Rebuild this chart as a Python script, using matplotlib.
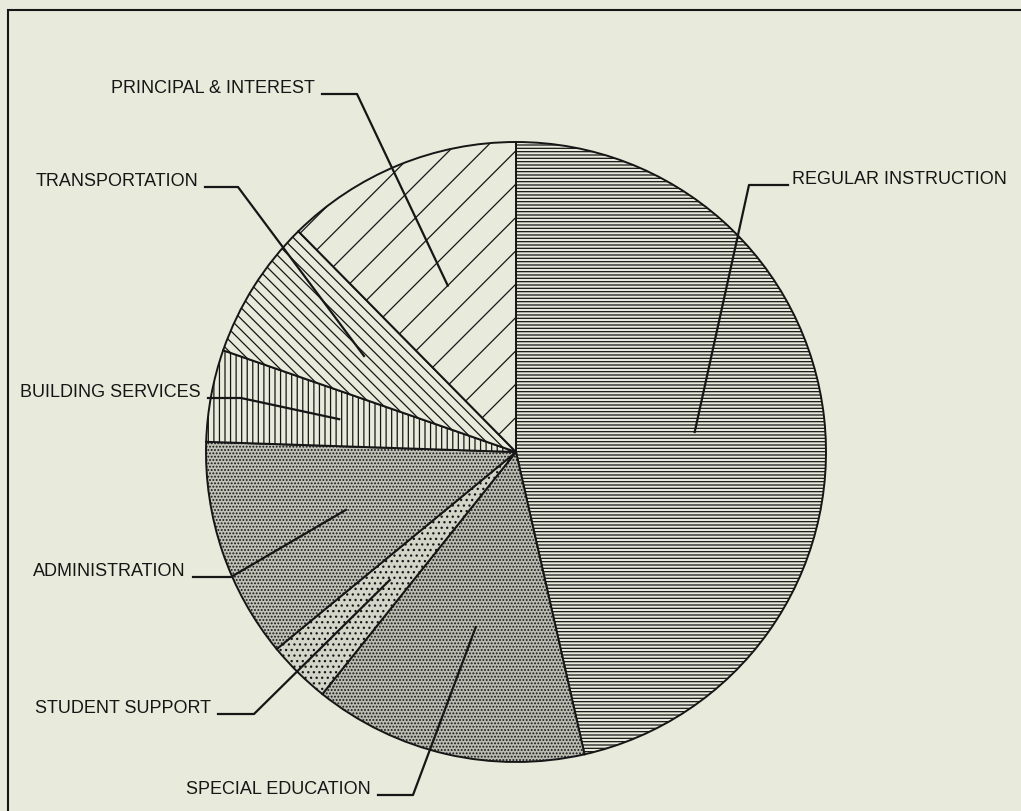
"""Pie chart of district expenditures by program, drawn in the old hatched style."""

import matplotlib

matplotlib.use("Agg")
import matplotlib.pyplot as plt
import numpy as np

FIG_W = 1021
FIG_H = 811
DPI = 100

BG_COLOR = "#e8eadb"
INK = "#161616"

PIE_CENTER = (516, 359)
PIE_RADIUS = 310
LEADER_RADIUS = 0.58

# Slices in clockwise order, starting at 12 o'clock
categories = [
    "REGULAR INSTRUCTION",
    "SPECIAL EDUCATION",
    "STUDENT SUPPORT",
    "ADMINISTRATION",
    "BUILDING SERVICES",
    "TRANSPORTATION",
    "PRINCIPAL & INTEREST",
]
shares = [46.5, 14.3, 3.3, 11.5, 4.8, 7.3, 12.4]

# (facecolor, hatch) per slice
slice_styles = [
    (BG_COLOR, "-----"),
    ("#babbb1", "....."),
    ("#d4d5c9", "..."),
    ("#c0c1b7", "....."),
    (BG_COLOR, "|||"),
    (BG_COLOR, "\\\\\\"),
    (BG_COLOR, "/"),
]

# Leader layout in pixels from the top-left: (text side x, corner x, y, text alignment)
label_layout = [
    (788, 749, 185, "left"),
    (378, 413, 795, "right"),
    (218, 254, 714, "right"),
    (193, 231, 577, "right"),
    (208, 241, 398, "right"),
    (205, 238, 187, "right"),
    (322, 357, 94, "right"),
]


def draw_frame(ax: plt.Axes) -> None:
    """Top and left rule of the scanned page frame."""
    ax.plot([8, 8, FIG_W], [0, FIG_H - 10, FIG_H - 10],
            color=INK, linewidth=1.5, solid_joinstyle="miter", zorder=6)


def draw_labels(ax: plt.Axes, wedges) -> None:
    """Elbow leader lines from each label to the middle of its slice."""
    for wedge, name, (start, corner, y, ha) in zip(wedges, categories, label_layout):
        mid = np.deg2rad((wedge.theta1 + wedge.theta2) / 2)
        tip_x = PIE_CENTER[0] + LEADER_RADIUS * PIE_RADIUS * np.cos(mid)
        tip_y = PIE_CENTER[1] + LEADER_RADIUS * PIE_RADIUS * np.sin(mid)
        yd = FIG_H - y
        ax.plot([start, corner, tip_x], [yd, yd, tip_y],
                color=INK, linewidth=1.6, zorder=5)
        tx = start - 7 if ha == "right" else start + 4
        ax.text(tx, yd + 1, name, ha=ha, va="baseline", fontsize=13,
                color=INK, family=["Liberation Sans", "DejaVu Sans"])


def main() -> None:
    plt.rcParams["hatch.linewidth"] = 0.9

    fig = plt.figure(figsize=(FIG_W / DPI, FIG_H / DPI), dpi=DPI)
    fig.patch.set_facecolor(BG_COLOR)
    ax = fig.add_axes([0, 0, 1, 1])
    ax.set_facecolor(BG_COLOR)

    wedges, _ = ax.pie(
        shares,
        startangle=90,
        counterclock=False,
        center=PIE_CENTER,
        radius=PIE_RADIUS,
        wedgeprops=dict(edgecolor=INK, linewidth=1.4),
    )
    for wedge, (face, hatch) in zip(wedges, slice_styles):
        wedge.set_facecolor(face)
        wedge.set_hatch(hatch)

    draw_labels(ax, wedges)
    draw_frame(ax)

    ax.set_aspect("auto")
    ax.set_xlim(0, FIG_W)
    ax.set_ylim(0, FIG_H)
    ax.axis("off")

    fig.savefig("out.png", dpi=DPI, facecolor=BG_COLOR)


if __name__ == "__main__":
    main()
